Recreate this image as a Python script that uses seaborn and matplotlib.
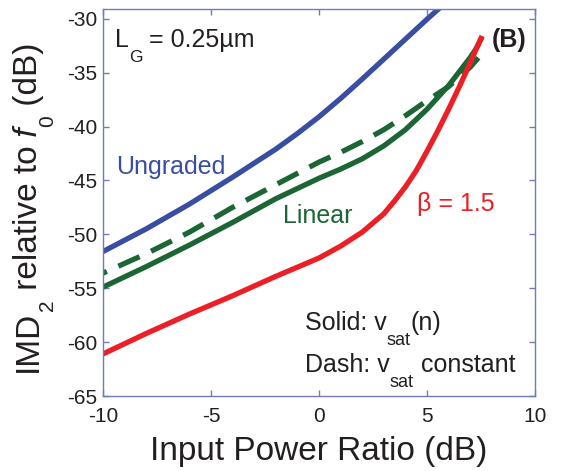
import matplotlib
matplotlib.use("Agg")
import matplotlib.pyplot as plt
import seaborn as sns

# ---------------- data ----------------
ungraded_x = [-10, -8, -6, -4, -2, -1, 0, 1, 2, 3, 4, 5, 5.7]
ungraded_y = [-51.6, -49.5, -47.2, -44.7, -42.1, -40.65, -39.1, -37.4, -35.6, -33.75, -31.9, -30.05, -28.8]

linear_x = [-10, -8, -6, -4, -2, 0, 1, 2, 3, 4, 5, 6, 6.5, 7, 7.3, 7.55]
linear_y = [-54.9, -53.0, -51.0, -48.9, -46.7, -44.8, -43.95, -43.0, -41.8, -40.3, -38.4, -36.2, -34.9, -33.6, -32.7, -31.7]

linear_const_x = [-10, -8, -6, -4, -2, 0, 1, 2, 3, 4, 5, 6, 7, 7.6]
linear_const_y = [-53.6, -51.8, -49.8, -47.5, -45.4, -43.3, -42.4, -41.4, -40.3, -39.0, -37.6, -36.3, -34.5, -33.1]

beta_x = [-10, -8, -6, -4, -2, 0, 1, 2, 3, 3.5, 4, 4.5, 5, 5.5, 6, 6.5, 7, 7.3, 7.55]
beta_y = [-61.1, -59.2, -57.4, -55.7, -53.9, -52.2, -51.1, -49.8, -48.1, -46.9, -45.6, -44.1, -42.3, -40.4, -38.4, -36.3, -34.1, -32.7, -31.6]

xticks = [-10, -5, 0, 5, 10]
yticks = [-65, -60, -55, -50, -45, -40, -35, -30]

# ---------------- style ----------------
sns.set_theme(style="white")
plt.rcParams["font.family"] = ["Liberation Sans", "DejaVu Sans"]
plt.rcParams["axes.unicode_minus"] = False

BLUE = "#3a4ea1"
GREEN = "#1b6634"
RED = "#ec1f26"
SPINE = "#6f7bbd"
TXT = "#231f20"

W, H = 564, 471
fig = plt.figure(figsize=(W / 100, H / 100), dpi=100)
fig.patch.set_facecolor("white")
ax = fig.add_axes([103 / W, 1 - 396 / H, 432 / W, 387 / H])
ax.set_facecolor("white")

LW = 3.8
common = dict(ax=ax, linewidth=LW, sort=False, estimator=None,
              solid_joinstyle="round", dash_joinstyle="round")
sns.lineplot(x=ungraded_x, y=ungraded_y, color=BLUE, solid_capstyle="butt", **common)
sns.lineplot(x=linear_const_x, y=linear_const_y, color=GREEN,
             linestyle=(3.6, (4.4, 2.4)), dash_capstyle="butt", **common)
sns.lineplot(x=linear_x, y=linear_y, color=GREEN, solid_capstyle="butt", **common)
sns.lineplot(x=beta_x, y=beta_y, color=RED, solid_capstyle="butt", **common)

ax.set_xlim(-10, 10)
ax.set_ylim(-65, -29.1)
ax.set_xticks(xticks)
ax.set_yticks(yticks)
ax.set_xticklabels([str(v) for v in xticks])
ax.set_yticklabels([str(v) for v in yticks])

for s in ax.spines.values():
    s.set_color(SPINE)
    s.set_linewidth(1.0)
    s.set_visible(True)

ax.tick_params(direction="in", length=4.3, width=1.0, color=SPINE,
               labelcolor=TXT, labelsize=15, top=True, right=True,
               bottom=True, left=True)
ax.tick_params(axis="x", pad=7.7)
ax.tick_params(axis="y", pad=4.3)

ax.set_xlabel("Input Power Ratio (dB)", fontsize=24, color=TXT)
ax.xaxis.set_label_coords(0.5, (396 - 460) / 387)
ax.xaxis.label.set_va("baseline")
ax.set_ylabel("")

# ---------------- annotations ----------------
ax.text(-9.4, -44.45, "Ungraded", color=BLUE, fontsize=18, ha="left", va="baseline")
ax.text(-1.65, -48.95, "Linear", color=GREEN, fontsize=18, ha="left", va="baseline")
ax.text(4.55, -47.85, "β = 1.5", color=RED, fontsize=18, ha="left", va="baseline")

renderer = fig.canvas.get_renderer()


def chain(x, y, pieces, rot=False):
    for s, size, dy, kw in pieces:
        if not rot:
            t = fig.text(x / W, 1 - (y + dy) / H, s, fontsize=size, ha="left",
                         va="baseline", color=TXT, **kw)
            bb = t.get_window_extent(renderer)
            x = bb.x1
        else:
            t = fig.text((x + dy) / W, 1 - y / H, s, fontsize=size, rotation=90,
                         rotation_mode="anchor", ha="left", va="baseline",
                         color=TXT, **kw)
            bb = t.get_window_extent(renderer)
            y = H - bb.y1


chain(115, 47, [("L", 18, 0, {}), ("G", 12.5, 15, {}), (" = 0.25µm", 18, 0, {})])
fig.text(492 / W, 1 - 47 / H, "(B)", fontsize=18, fontweight="bold", color=TXT,
         ha="left", va="baseline")
chain(305, 330, [("Solid: v", 18, 0, {}), ("sat", 13, 15, {}), ("(n)", 18, 0, {})])
chain(305, 372, [("Dash: v", 18, 0, {}), ("sat", 13, 15, {}), (" constant", 18, 0, {})])

chain(37, 372, [("IMD", 24, 0, {}), ("2", 15, 16, {}), (" relative to", 24, 0, {}),
                (" f", 24, 0, {"style": "italic"}), ("0", 15, 16, {}),
                (" (dB)", 24, 0, {})], rot=True)

fig.savefig("out.png", dpi=100, facecolor="white")
